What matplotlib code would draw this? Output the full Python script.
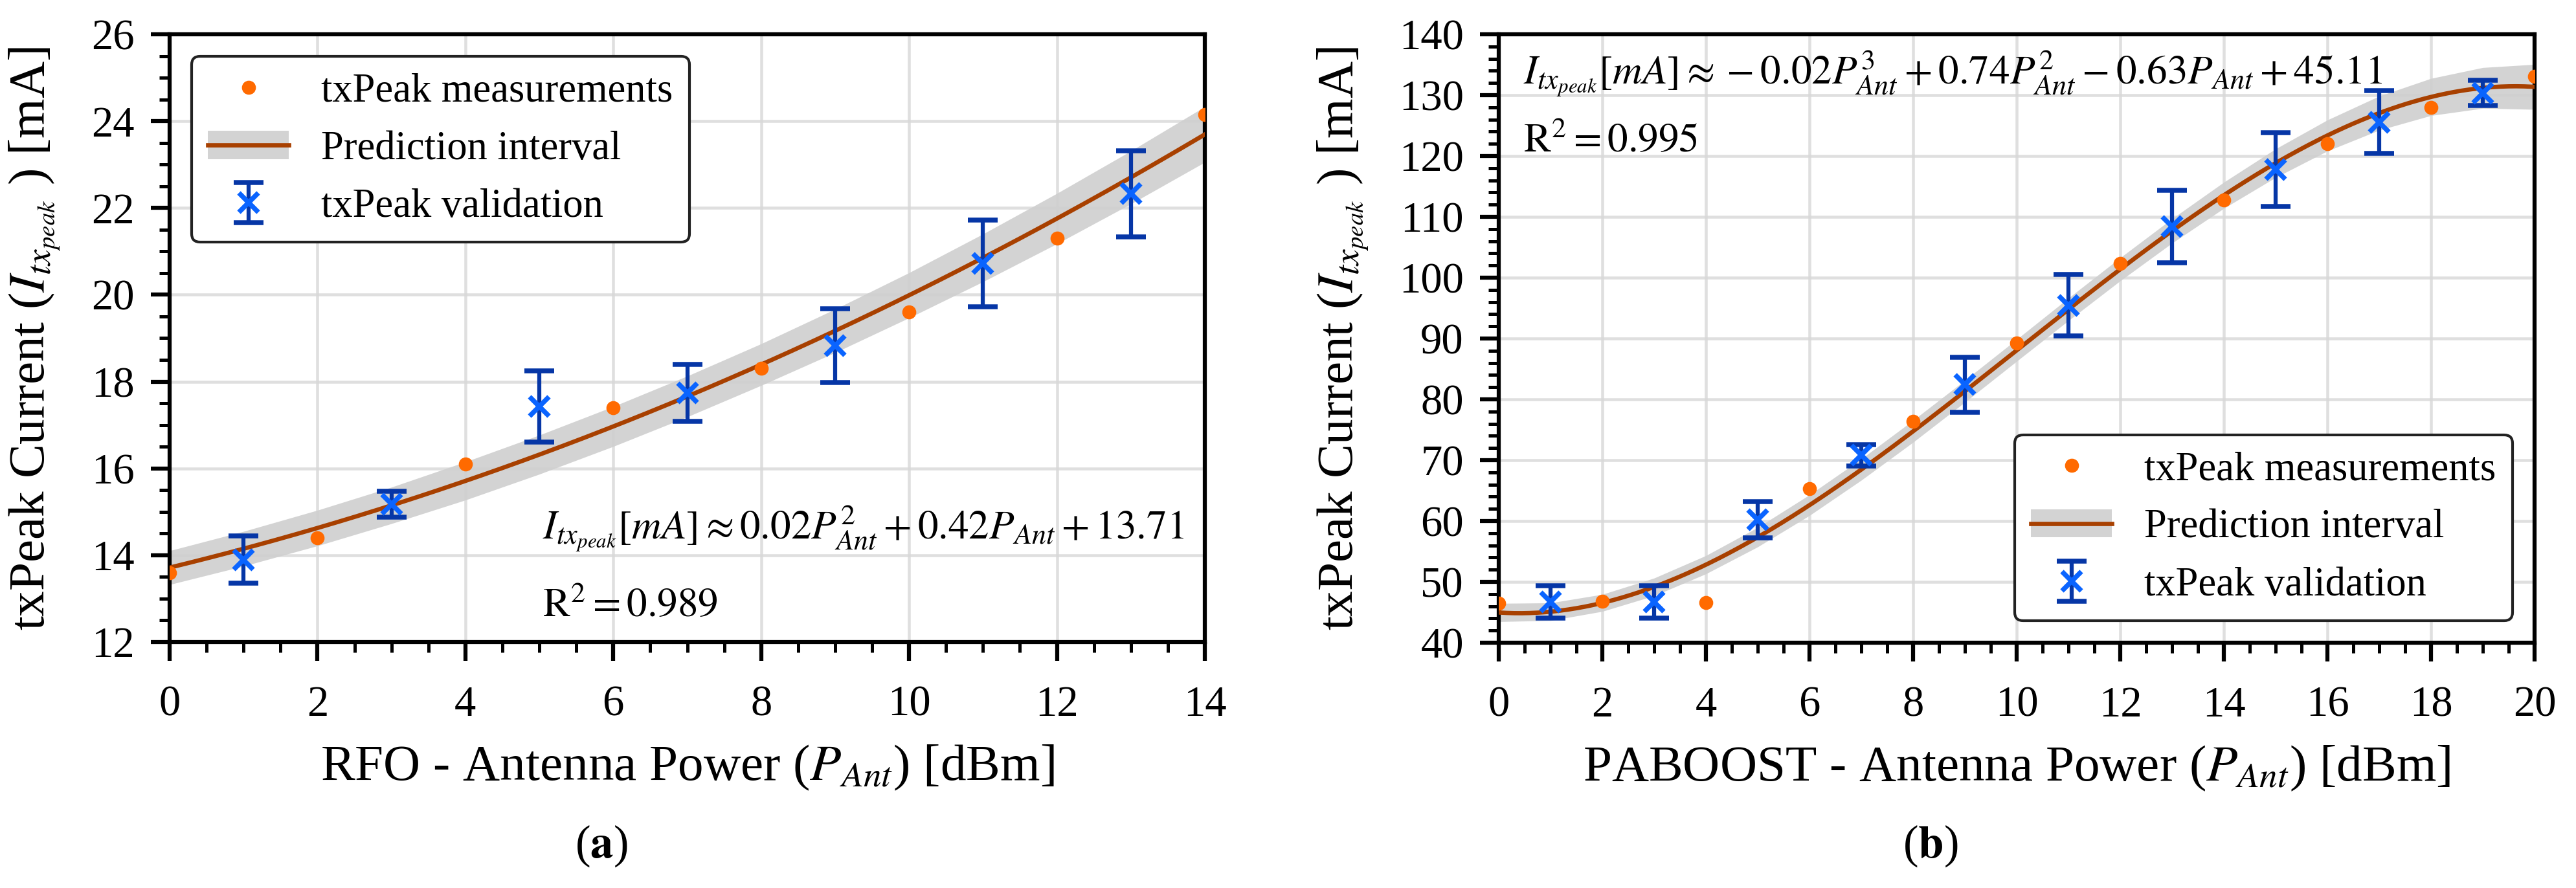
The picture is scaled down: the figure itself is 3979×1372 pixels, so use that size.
"""txPeak current vs antenna power: RFO (a) and PABOOST (b) fits with validation points."""
import matplotlib; matplotlib.use("Agg")
import matplotlib.pyplot as plt
import numpy as np
from matplotlib.ticker import MultipleLocator

plt.rcParams["font.family"] = ["Liberation Serif", "DejaVu Serif"]
plt.rcParams["mathtext.fontset"] = "stix"

ORANGE = "#ff6a00"
BROWN = "#a84000"
BAND = "#cfcfcf"
XBLUE = "#0a64ff"
EBLUE = "#0636a6"

# ---- (a) RFO ----
rfo_meas_x = [0, 2, 4, 6, 8, 10, 12, 14]
rfo_meas_y = [13.6, 14.4, 16.1, 17.4, 18.3, 19.6, 21.3, 24.15]
rfo_val_x = [1, 3, 5, 7, 9, 11, 13]
rfo_val_y = [13.9, 15.18, 17.42, 17.74, 18.83, 20.72, 22.33]
rfo_val_err = [0.55, 0.30, 0.82, 0.65, 0.85, 1.00, 0.99]
rfo_band_x = list(range(0, 15))
rfo_band_hw = [0.39, 0.40, 0.41, 0.42, 0.44, 0.45, 0.46, 0.47,
               0.48, 0.50, 0.52, 0.55, 0.58, 0.61, 0.64]

# ---- (b) PABOOST ----
pab_meas_x = [0, 2, 4, 6, 8, 10, 12, 14, 16, 18, 20]
pab_meas_y = [46.5, 46.8, 46.6, 65.3, 76.4, 89.3, 102.35, 112.8, 122.0, 127.95, 133.1]
pab_val_x = [1, 3, 5, 7, 9, 11, 13, 15, 17, 19]
pab_val_y = [46.7, 46.7, 60.2, 70.8, 82.4, 95.45, 108.45, 117.75, 125.55, 130.35]
pab_val_err = [2.7, 2.7, 3.0, 1.8, 4.5, 5.05, 5.95, 6.05, 5.15, 2.05]
pab_band_x = list(range(0, 21))
pab_band_hw = [1.5, 1.45, 1.4, 1.45, 1.5, 1.6, 1.7, 1.75, 1.8, 1.8, 1.8,
               1.85, 1.9, 2.0, 2.15, 2.35, 2.55, 2.8, 3.05, 3.35, 3.7]

W, H = 3979, 1372
fig = plt.figure(figsize=(W / 300, H / 300), dpi=300)
axa = fig.add_axes([262 / W, 1 - 992 / H, 1599 / W, 939 / H])
axb = fig.add_axes([2315 / W, 1 - 993 / H, 1600 / W, 940 / H])


def panel(ax, mx, my, vx, vy, ve, bx, bhw, deg, xlim, ylim, ymaj, ymin, loc):
    coef = np.polyfit(mx, my, deg)
    xf = np.linspace(xlim[0], xlim[1], 400)
    bx = np.asarray(bx, float)
    yb = np.polyval(coef, bx)
    band = ax.fill_between(bx, yb - np.asarray(bhw), yb + np.asarray(bhw),
                           color=BAND, alpha=0.9, lw=0, zorder=2)
    line, = ax.plot(xf, np.polyval(coef, xf), color=BROWN, lw=1.6, zorder=3)
    meas, = ax.plot(mx, my, "o", ls="none", color=ORANGE, ms=4.2, zorder=4)
    err = ax.errorbar(vx, vy, yerr=ve, fmt="x", color=XBLUE, ms=7, mew=1.8,
                      ecolor=EBLUE, elinewidth=1.5, capsize=5.5, capthick=2.2,
                      zorder=5)
    ax.set_xlim(*xlim); ax.set_ylim(*ylim)
    ax.xaxis.set_major_locator(MultipleLocator(2))
    ax.xaxis.set_minor_locator(MultipleLocator(0.5))
    ax.yaxis.set_major_locator(MultipleLocator(ymaj))
    ax.yaxis.set_minor_locator(MultipleLocator(ymin))
    ax.grid(True, which="major", color="#d8d8d8", lw=1.1, alpha=0.8, zorder=0)
    ax.set_axisbelow(True)
    for s in ax.spines.values():
        s.set_linewidth(1.5)
    ax.tick_params(which="major", direction="out", length=7, width=1.5,
                   labelsize=16, pad=6)
    ax.tick_params(axis="x", which="major", pad=9)
    ax.tick_params(which="minor", direction="out", length=3.8, width=1.2)
    ax.legend([meas, (band, line), err],
              ["txPeak measurements", "Prediction interval", "txPeak validation"],
              loc=loc, fontsize=15, framealpha=1, edgecolor="#222222",
              fancybox=True, borderaxespad=0.55)
    return coef


panel(axa, rfo_meas_x, rfo_meas_y, rfo_val_x, rfo_val_y, rfo_val_err,
      rfo_band_x, rfo_band_hw, 2, (0, 14), (12, 26), 2, 0.5, "upper left")
panel(axb, pab_meas_x, pab_meas_y, pab_val_x, pab_val_y, pab_val_err,
      pab_band_x, pab_band_hw, 3, (0, 20), (40, 140), 10, 2, "lower right")

ylab = r"txPeak Current ($I_{tx_{peak}}$ ) [mA]"
axa.set_ylabel(ylab, fontsize=19)
axb.set_ylabel(ylab, fontsize=19)
axa.yaxis.set_label_coords(-0.103, 0.5)
axb.yaxis.set_label_coords(-0.123, 0.5)
axa.set_xlabel(r"RFO - Antenna Power ($P_{Ant}$) [dBm]", fontsize=19, labelpad=7)
axb.set_xlabel(r"PABOOST - Antenna Power ($P_{Ant}$) [dBm]", fontsize=19, labelpad=7)

EQ_FS = 15.15
axa.text(0.36, 0.17, r"$I_{tx_{peak}}[mA] \approx 0.02P_{Ant}^2 + 0.42P_{Ant} + 13.71$",
         transform=axa.transAxes, fontsize=EQ_FS, va="baseline")
axa.text(0.36, 0.043, r"$\mathrm{R}^2 = 0.989$", transform=axa.transAxes,
         fontsize=EQ_FS, va="baseline")
axb.text(0.024, 0.918,
         r"$I_{tx_{peak}}[mA] \approx -0.02P_{Ant}^3 + 0.74P_{Ant}^2 - 0.63P_{Ant} + 45.11$",
         transform=axb.transAxes, fontsize=EQ_FS, va="baseline")
axb.text(0.024, 0.807, r"$\mathrm{R}^2 = 0.995$", transform=axb.transAxes,
         fontsize=EQ_FS, va="baseline")

fig.text(929 / W, 1 - 1307 / H, r"($\mathbf{a}$)", fontsize=17, ha="center", va="center")
fig.text(2982 / W, 1 - 1307 / H, r"($\mathbf{b}$)", fontsize=17, ha="center", va="center")

fig.savefig("out.png", dpi=300, facecolor="white")
